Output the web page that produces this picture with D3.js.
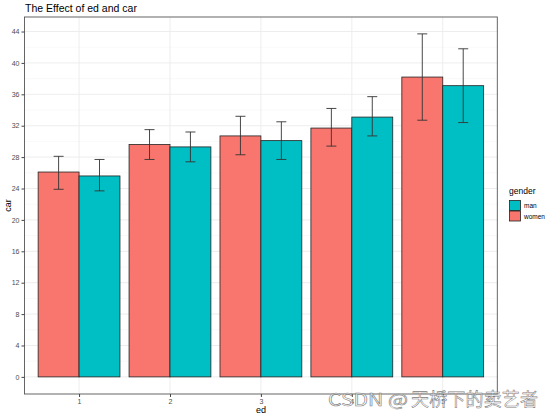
<!DOCTYPE html>
<html><head><meta charset="utf-8">
<script src="https://cdn.jsdelivr.net/npm/d3@7"></script>
<style>body{margin:0;background:#fff}svg{display:block;font-family:Arial,"Liberation Sans",sans-serif}</style>
</head><body>
<svg id="c" width="554" height="418"></svg>
<script>
const categories = ["1","2","3","4","5"];
const genders = ["women","man"];
const legendOrder = ["man","women"];
const womenMean = [26.1, 29.6, 30.7, 31.7, 38.2];
const womenLow  = [23.9, 27.7, 28.3, 29.4, 32.7];
const womenHigh = [28.1, 31.5, 33.2, 34.2, 43.7];
const manMean   = [25.6, 29.3, 30.1, 33.1, 37.1];
const manLow    = [23.7, 27.4, 27.7, 30.7, 32.4];
const manHigh   = [27.7, 31.2, 32.5, 35.7, 41.8];
const yTicks = [0,4,8,12,16,20,24,28,32,36,40,44];
const colors = {women:"#F8766D", man:"#00BFC4"};

const rows = [];
categories.forEach((c,i)=>{
  rows.push({ed:c, gender:"women", mean:womenMean[i], lo:womenLow[i], hi:womenHigh[i]});
  rows.push({ed:c, gender:"man", mean:manMean[i], lo:manLow[i], hi:manHigh[i]});
});

const svg = d3.select("#c");
const L=24.5, R=497.3, T=17, B=394;
const unit = (R-L)/(categories.length-1+1.2);
const x = d3.scalePoint().domain(categories).range([L+0.6*unit, R-0.6*unit]);
const bw = 0.9*unit;
const xs = d3.scaleBand().domain(genders).range([-bw/2, bw/2]).padding(0);
const y = d3.scaleLinear().domain([-2.18, 45.85]).range([B, T]);

// grid
const g = svg.append("g");
const minor = d3.range(2, 46, 4);
g.selectAll(".mn").data(minor).join("line").attr("x1",L).attr("x2",R)
  .attr("y1",d=>y(d)).attr("y2",d=>y(d)).attr("stroke","#f3f3f3").attr("stroke-width",0.5);
g.selectAll(".mj").data(yTicks).join("line").attr("x1",L).attr("x2",R)
  .attr("y1",d=>y(d)).attr("y2",d=>y(d)).attr("stroke","#ebebeb").attr("stroke-width",0.9);
g.selectAll(".vx").data(categories).join("line").attr("y1",T).attr("y2",B)
  .attr("x1",d=>x(d)).attr("x2",d=>x(d)).attr("stroke","#ebebeb").attr("stroke-width",0.9);

// bars
svg.append("g").selectAll("rect").data(rows).join("rect")
  .attr("x",d=>x(d.ed)+xs(d.gender)).attr("width",xs.bandwidth())
  .attr("y",d=>y(d.mean)).attr("height",d=>y(0)-y(d.mean))
  .attr("fill",d=>colors[d.gender]).attr("stroke","#222").attr("stroke-width",0.8);

// error bars
const eb = svg.append("g").attr("stroke","#333").attr("stroke-width",0.9);
rows.forEach(d=>{
  const cx = x(d.ed)+xs(d.gender)+xs.bandwidth()/2;
  eb.append("line").attr("x1",cx).attr("x2",cx).attr("y1",y(d.lo)).attr("y2",y(d.hi));
  eb.append("line").attr("x1",cx-5).attr("x2",cx+5).attr("y1",y(d.lo)).attr("y2",y(d.lo));
  eb.append("line").attr("x1",cx-5).attr("x2",cx+5).attr("y1",y(d.hi)).attr("y2",y(d.hi));
});

// panel border
svg.append("rect").attr("x",L).attr("y",T).attr("width",R-L).attr("height",B-T)
  .attr("fill","none").attr("stroke","#555").attr("stroke-width",0.9);

// axes
const ya = svg.append("g").attr("transform",`translate(${L},0)`)
  .call(d3.axisLeft(y).tickValues(yTicks).tickSize(3).tickPadding(2));
ya.select(".domain").remove();
ya.selectAll("line").attr("stroke","#444");
ya.selectAll("text").attr("fill","#4d4d4d").attr("font-size",7).attr("font-family","Arial, Liberation Sans, sans-serif");
const xa = svg.append("g").attr("transform",`translate(0,${B})`)
  .call(d3.axisBottom(x).tickSize(3).tickPadding(2));
xa.select(".domain").remove();
xa.selectAll("line").attr("stroke","#444");
xa.selectAll("text").attr("fill","#4d4d4d").attr("font-size",7).attr("font-family","Arial, Liberation Sans, sans-serif");

// titles
svg.append("text").attr("x",25).attr("y",12).attr("font-size",10.5).attr("fill","#000").text("The Effect of ed and car");
svg.append("text").attr("x",(L+R)/2).attr("y",413).attr("text-anchor","middle").attr("font-size",9).attr("fill","#000").text("ed");
svg.append("text").attr("transform",`translate(11,${(T+B)/2}) rotate(-90)`).attr("text-anchor","middle").attr("font-size",9).attr("fill","#000").text("car");

// legend
const lg = svg.append("g");
lg.append("text").attr("x",509).attr("y",194).attr("font-size",8.5).attr("fill","#000").text("gender");
legendOrder.forEach((k,i)=>{
  lg.append("rect").attr("x",509.5).attr("y",200.5+i*10.5).attr("width",11).attr("height",10)
    .attr("fill",colors[k]).attr("stroke","#222").attr("stroke-width",0.8);
  lg.append("text").attr("x",524).attr("y",208+i*10.5).attr("font-size",6.5).attr("fill","#000").text(k);
});

// watermark
const wm = svg.append("g").attr("font-family","'Noto Sans CJK SC', 'Noto Sans', sans-serif")
  .attr("fill","rgba(255,255,255,0.55)").attr("stroke","#808080").attr("stroke-width",0.55);
wm.append("text").attr("x",328).attr("y",406).attr("font-size",17)
  .attr("textLength",80).attr("lengthAdjust","spacingAndGlyphs").text("CSDN @");
wm.append("text").attr("x",411).attr("y",406).attr("font-size",18)
  .attr("textLength",127).attr("lengthAdjust","spacing").text("天桥下的卖艺者");
</script>
</body></html>
